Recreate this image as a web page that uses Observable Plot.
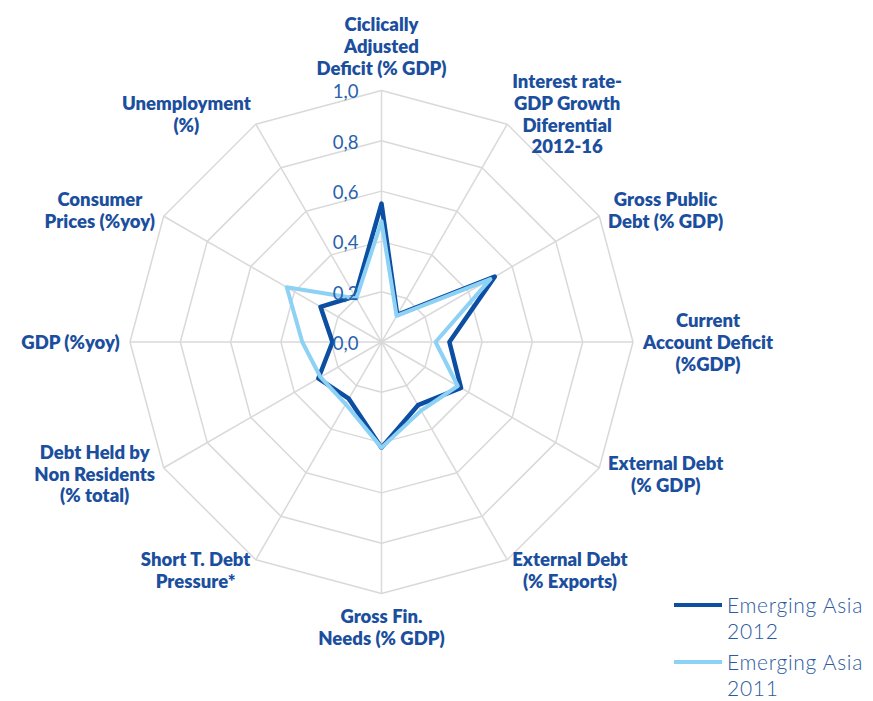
<!DOCTYPE html>
<html><head><meta charset="utf-8">
<script src="https://cdn.jsdelivr.net/npm/d3@7"></script>
<script src="https://cdn.jsdelivr.net/npm/@observablehq/plot@0.6"></script>
<style>
html,body{margin:0;padding:0;background:#fff;}
#chart{width:873px;height:701px;overflow:hidden;}
</style></head><body><div id="chart"></div>
<script>
const categories = [
  "Ciclically\nAdjusted\nDeficit (% GDP)",
  "Interest rate-\nGDP Growth\nDiferential\n2012-16",
  "Gross Public\nDebt (% GDP)",
  "Current\nAccount Deficit\n(%GDP)",
  "External Debt\n(% GDP)",
  "External Debt\n(% Exports)",
  "Gross Fin.\nNeeds (% GDP)",
  "Short T. Debt\nPressure*",
  "Debt Held by\nNon Residents\n(% total)",
  "GDP (%yoy)",
  "Consumer\nPrices (%yoy)",
  "Unemployment\n(%)"
];
const seriesNames = ["Emerging Asia\n2012", "Emerging Asia\n2011"];
const values2012 = [0.55, 0.125, 0.52, 0.27, 0.365, 0.29, 0.42, 0.26, 0.29, 0.195, 0.28, 0.21];
const values2011 = [0.48, 0.12, 0.50, 0.215, 0.35, 0.315, 0.42, 0.285, 0.28, 0.315, 0.435, 0.20];
const tickValues = [0, 0.2, 0.4, 0.6, 0.8, 1.0];
const seriesColors = ["#0b4ea2", "#8dd2f4"];

const W = 873, H = 701, CX = 381, CY = 341.5, R = 251.5;
const n = categories.length;
const ang = i => i * 2 * Math.PI / n;
const px = (r, i) => r * Math.sin(ang(i));
const py = (r, i) => r * Math.cos(ang(i));
const fmt = d => d3.format(".1f")(d).replace(".", ",");

const labelFont = "Lato";
const labelSize = 18.5;
const labelWeight = 800;
const labelLH = 1.17;

// rings
const rings = [];
tickValues.filter(t => t > 0).forEach(t => {
  for (let i = 0; i <= n; i++) rings.push({ring: t, x: px(t, i % n), y: py(t, i % n)});
});
const spokes = d3.range(n);

function closedPath(vals) {
  return d3.range(n + 1).map(k => ({x: px(vals[k % n], k % n), y: py(vals[k % n], k % n)}));
}

// label layout
const ctx = document.createElement("canvas").getContext("2d");
ctx.font = `${labelWeight} ${labelSize}px ${labelFont}`;
const labels = categories.map((c, i) => {
  const lines = c.split("\n");
  const bw = d3.max(lines, l => ctx.measureText(l).width);
  const bh = lines.length * labelLH * labelSize;
  const s = Math.sin(ang(i)), co = Math.cos(ang(i));
  const ex = CX + R * s, ey = CY - R * co;
  let lx, ly;
  if (Math.abs(s) < 0.01) {
    lx = ex;
    ly = co > 0 ? ey - 12 - bh / 2 : ey + 12 + bh / 2;
  } else {
    lx = ex + 10 * s + Math.sign(s) * bw / 2;
    ly = ey - 12 * co;
  }
  return {text: c, x: (lx - CX) / R, y: (CY - ly) / R};
});

const plot = Plot.plot({
  width: W, height: H,
  marginTop: 0, marginRight: 0, marginBottom: 0, marginLeft: 0,
  x: {domain: [-CX / R, (W - CX) / R], axis: null},
  y: {domain: [-(H - CY) / R, CY / R], axis: null},
  style: {background: "#fff"},
  marks: [
    Plot.line(rings, {x: "x", y: "y", z: "ring", stroke: "#d9d9d9", strokeWidth: 1.5}),
    Plot.link(spokes, {x1: () => 0, y1: () => 0, x2: i => px(1, i), y2: i => py(1, i), stroke: "#d9d9d9", strokeWidth: 1.5}),
    Plot.line(closedPath(values2012), {x: "x", y: "y", stroke: seriesColors[0], strokeWidth: 4.5, strokeLinejoin: "round"}),
    Plot.line(closedPath(values2011), {x: "x", y: "y", stroke: seriesColors[1], strokeWidth: 4, strokeLinejoin: "round"}),
    Plot.text(tickValues, {x: () => 0, y: d => d, text: fmt, textAnchor: "end", dx: -23, dy: 2, fill: "#2762ad", fontSize: 18.5, fontFamily: "Lato"}),
    Plot.text(labels, {x: "x", y: "y", text: "text", textAnchor: "middle", lineAnchor: "middle", lineHeight: labelLH, fill: "#1b4f9e", fontSize: labelSize, fontWeight: labelWeight, fontFamily: labelFont})
  ]
});

// legend
const svg = d3.select(plot);
const lg = svg.append("g").attr("font-family", "Lato").attr("font-weight", 300).attr("font-size", 21)
  .attr("letter-spacing", 0.7).attr("fill", "#2b5a9e").attr("text-anchor", "start");
seriesNames.forEach((s, k) => {
  const y0 = 605 + k * 57;
  lg.append("line").attr("x1", 674).attr("x2", 722).attr("y1", y0).attr("y2", y0)
    .attr("stroke", seriesColors[k]).attr("stroke-width", 4);
  const t = lg.append("text").attr("x", 727).attr("y", y0 + 8);
  s.split("\n").forEach((line, j) => {
    t.append("tspan").attr("x", 727).attr("dy", j === 0 ? 0 : 25.5).text(line);
  });
});

document.getElementById("chart").appendChild(plot);
</script></body></html>
